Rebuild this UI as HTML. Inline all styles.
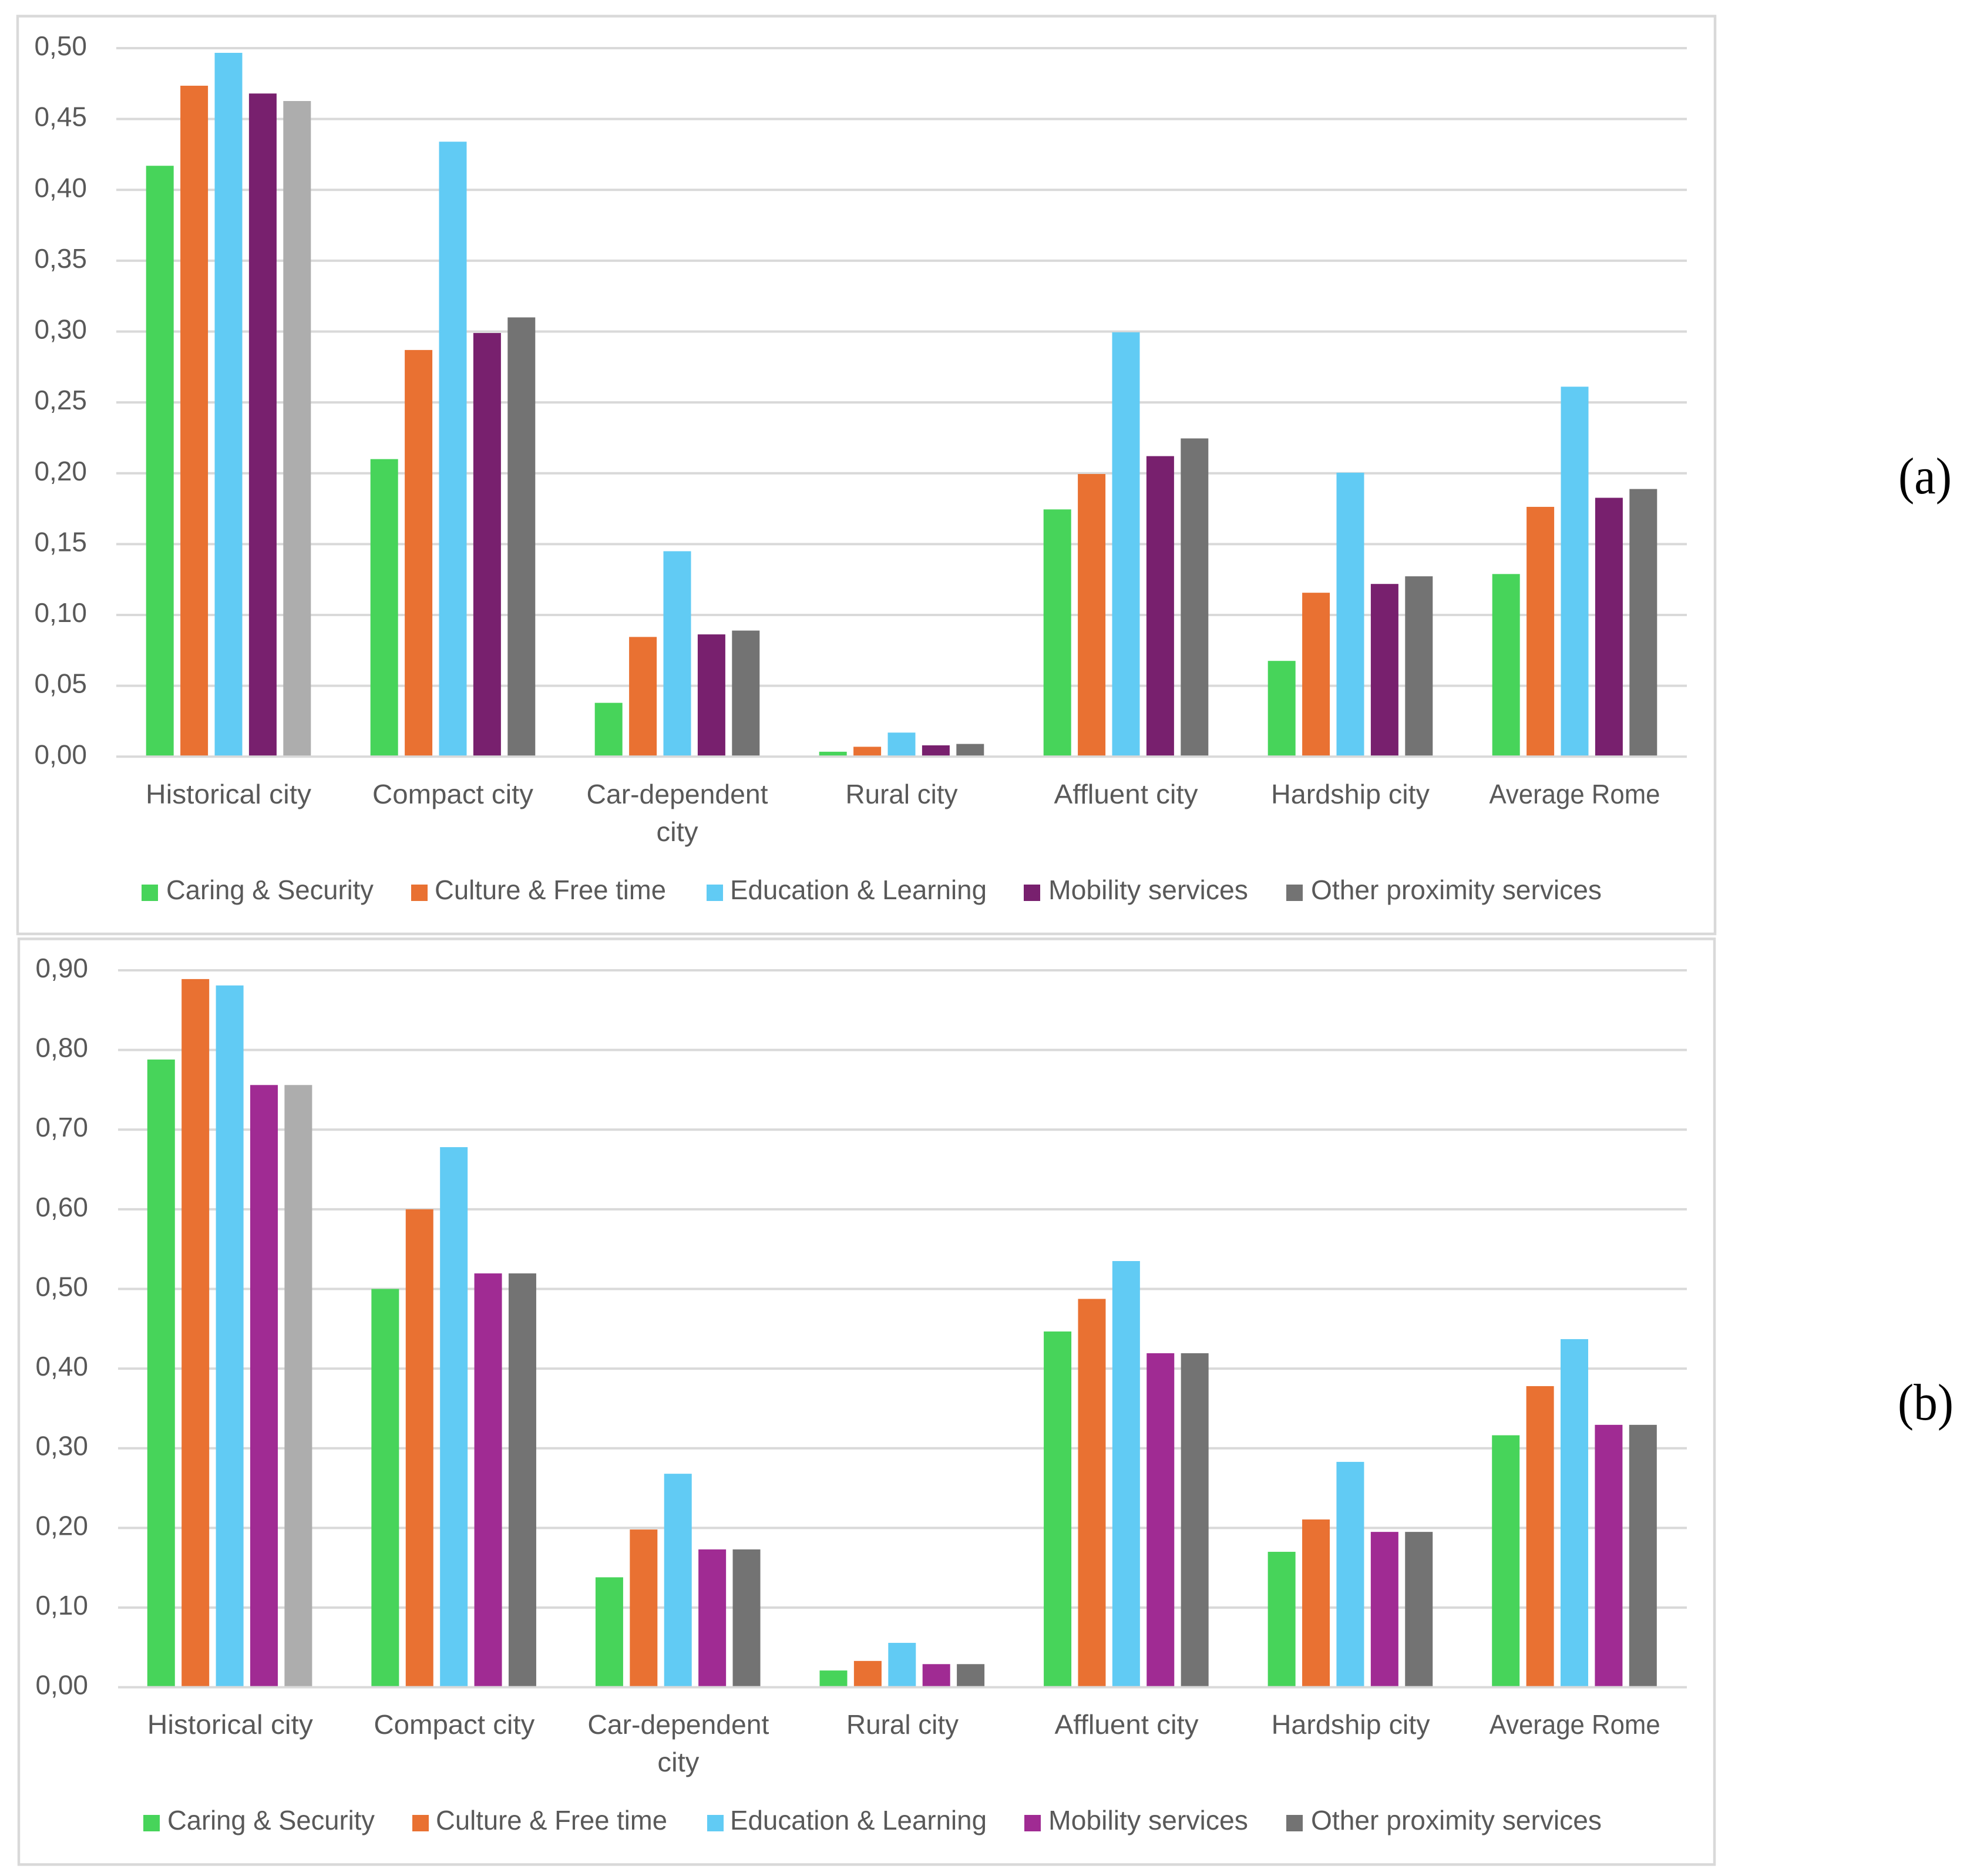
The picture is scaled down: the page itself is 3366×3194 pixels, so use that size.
<!DOCTYPE html>
<html lang="en">
<head>
<meta charset="utf-8">
<title>Proximity services by city type</title>
<style>
html,body{margin:0;padding:0;background:#fff;}
svg{display:block;}
text{font-family:"Liberation Sans",sans-serif;fill:#595959;}
.panel-tag{font-family:"Liberation Serif",serif;fill:#000;}
</style>
</head>
<body>
<svg id="figure" xmlns="http://www.w3.org/2000/svg" width="3366" height="3194" viewBox="0 0 3366 3194">
  <rect x="0" y="0" width="3366" height="3194" fill="#ffffff"/>
  <rect x="30" y="27.5" width="2890" height="1562.5" fill="#fff" stroke="#d9d9d9" stroke-width="4.5"/>
  <rect x="32" y="1598.5" width="2887" height="1576" fill="#fff" stroke="#d9d9d9" stroke-width="4.5"/>
  <g id="chart-a"></g>
  <g id="chart-b"></g>
  <text class="panel-tag" x="3232" y="840" font-size="88" textLength="91" lengthAdjust="spacingAndGlyphs">(a)</text>
  <text class="panel-tag" x="3231" y="2417" font-size="88" textLength="95" lengthAdjust="spacingAndGlyphs">(b)</text>
</svg>
<script>
const categories = ['Historical city','Compact city','Car-dependent city','Rural city','Affluent city','Hardship city','Average Rome'];
const seriesNames = ['Caring & Security','Culture & Free time','Education & Learning','Mobility services','Other proximity services'];

const tickValuesA = [0,0.05,0.10,0.15,0.20,0.25,0.30,0.35,0.40,0.45,0.50];
const caringA  = [0.417,0.210,0.038,0.0035,0.1745,0.0676,0.1289];
const cultureA = [0.4735,0.287,0.0845,0.007,0.1995,0.1157,0.1763];
const educationA = [0.4967,0.434,0.145,0.017,0.2995,0.2004,0.2611];
const mobilityA = [0.468,0.299,0.0863,0.008,0.2121,0.1219,0.1827];
const otherA = [0.4627,0.310,0.089,0.009,0.2246,0.1273,0.1889];

const tickValuesB = [0,0.10,0.20,0.30,0.40,0.50,0.60,0.70,0.80,0.90];
const caringB  = [0.788,0.500,0.138,0.021,0.4466,0.170,0.3163];
const cultureB = [0.889,0.600,0.198,0.033,0.4875,0.2106,0.378];
const educationB = [0.881,0.678,0.268,0.0557,0.535,0.2829,0.437];
const mobilityB = [0.756,0.5195,0.173,0.029,0.4193,0.195,0.3294];
const otherB = [0.756,0.5195,0.173,0.029,0.4193,0.195,0.3294];

const NS = 'http://www.w3.org/2000/svg';
function svgEl(parent, tag, attrs, content) {
  const el = document.createElementNS(NS, tag);
  for (const k in attrs) el.setAttribute(k, attrs[k]);
  if (content !== undefined) el.textContent = content;
  parent.appendChild(el);
  return el;
}
function slug(s) {
  return s.toLowerCase().replace(/[^a-z0-9]+/g, '-');
}

// rendered label widths, matching the reference's narrower typeface
const labelFit = {'Historical city':282,'Compact city':274,'Car-dependent':309,'city':71,'Rural city':191,'Affluent city':245,'Hardship city':270,'Average Rome':291};

function drawChart(root, cfg) {
  const xScale = (groupIndex) => cfg.plotLeft + groupIndex * (cfg.plotRight - cfg.plotLeft) / categories.length;
  const groupWidth = (cfg.plotRight - cfg.plotLeft) / categories.length;
  const yScale = (v) => cfg.zeroY + (cfg.topY - cfg.zeroY) * v / cfg.axisMax;

  // gridlines and y tick labels
  cfg.ticks.forEach((t) => {
    if (t !== 0) {
      const line = svgEl(root, 'line', {x1: cfg.plotLeft, x2: cfg.plotRight, y1: yScale(t), y2: yScale(t), stroke: '#d9d9d9', 'stroke-width': 4});
      
      
    }
    const lab = svgEl(root, 'text', {x: cfg.tickRight, y: yScale(t) + 12, 'font-size': 46, 'text-anchor': 'end'}, t.toFixed(2).replace('.', ','));
    
    
  });

  // bars
  const pitch = 58.4, barW = 47;
  const n = cfg.series.length;
  cfg.series.forEach((vals, s) => {
    vals.forEach((v, c) => {
      const center = xScale(c) + groupWidth / 2 + cfg.barShift;
      const x = center - (n * barW + (n - 1) * (pitch - barW)) / 2 + s * pitch;
      const fill = (s === 4 && c === 0) ? '#adadad' : cfg.colors[s];
      const bar = svgEl(root, 'rect', {x: x, y: yScale(v), width: barW, height: cfg.zeroY - yScale(v), fill: fill});
      
      
    });
  });

  // x axis line
  const axis = svgEl(root, 'line', {x1: cfg.plotLeft, x2: cfg.plotRight, y1: cfg.zeroY, y2: cfg.zeroY, stroke: '#d9d9d9', 'stroke-width': 4});
  
  

  // category labels
  categories.forEach((name, c) => {
    const center = xScale(c) + groupWidth / 2;
    const lines = name.length > 15 ? [name.slice(0, name.lastIndexOf(' ')), name.slice(name.lastIndexOf(' ') + 1)] : [name];
    lines.forEach((ln, i) => {
      const lab = svgEl(root, 'text', {x: center, y: cfg.catBaseline + i * 64, 'font-size': 46, 'text-anchor': 'middle', textLength: labelFit[ln], lengthAdjust: 'spacingAndGlyphs'}, ln);
      
      
    });
  });

  // legend
  seriesNames.forEach((name, s) => {
    const g = svgEl(root, 'g', {});
    
    
    const sw = svgEl(g, 'rect', {x: cfg.legendSwatchX[s], y: cfg.legendBaseline - 25, width: 28, height: 28, fill: cfg.colors[s]});
    
    
    const t = svgEl(g, 'text', {x: cfg.legendTextX[s], y: cfg.legendBaseline, 'font-size': 46, textLength: cfg.legendTextW[s], lengthAdjust: 'spacingAndGlyphs'}, name);
    
    
  });
}

drawChart(document.getElementById('chart-a'), {
  series: [caringA, cultureA, educationA, mobilityA, otherA],
  ticks: tickValuesA,
  axisMax: 0.5,
  colors: ['#47d45a', '#e97132', '#61cbf4', '#78206e', '#737373'],
  plotLeft: 198, plotRight: 2872, zeroY: 1288.3, topY: 82,
  tickRight: 148,
  barShift: 0,
  catBaseline: 1368,
  legendBaseline: 1531,
  legendSwatchX: [241, 700, 1203, 1743, 2190],
  legendTextX: [283, 740, 1243, 1785, 2232],
  legendTextW: [353, 394, 437, 340, 495]
});

drawChart(document.getElementById('chart-b'), {
  series: [caringB, cultureB, educationB, mobilityB, otherB],
  ticks: tickValuesB,
  axisMax: 0.9,
  colors: ['#47d45a', '#e97132', '#61cbf4', '#a02b93', '#737373'],
  plotLeft: 201, plotRight: 2872, zeroY: 2872.6, topY: 1652,
  tickRight: 150,
  barShift: -0.7,
  catBaseline: 2952,
  legendBaseline: 3115,
  legendSwatchX: [244, 702, 1204, 1744, 2190],
  legendTextX: [285, 742, 1243, 1785, 2232],
  legendTextW: [353, 394, 437, 340, 495]
});
</script>
</body>
</html>
